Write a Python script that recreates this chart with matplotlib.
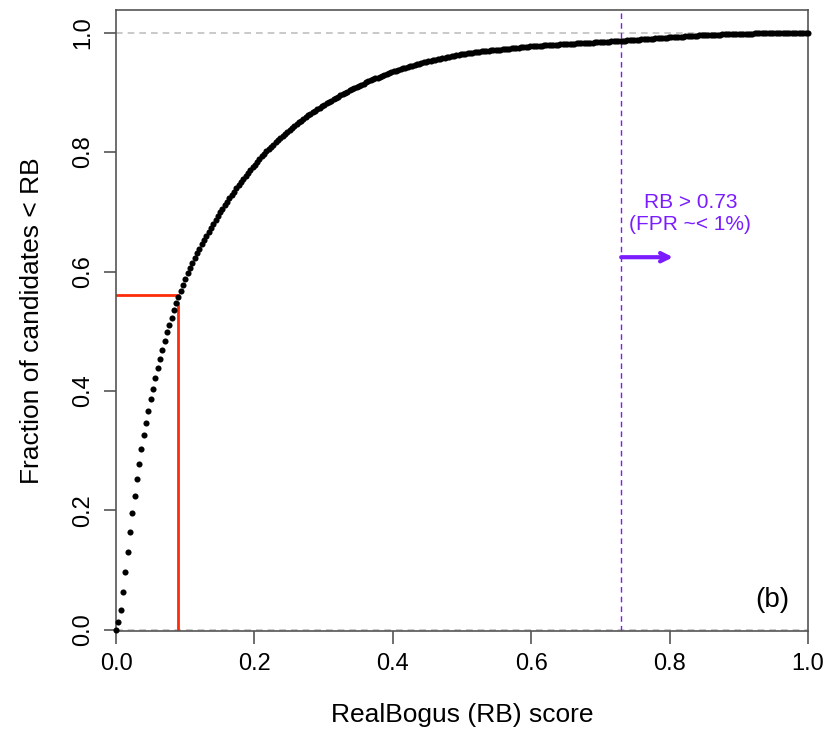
import numpy as np
import matplotlib
matplotlib.use("Agg")
import matplotlib.pyplot as plt

plt.rcParams['font.family'] = ['Liberation Sans', 'DejaVu Sans']

# CDF of RealBogus score sampled on an even grid (301 points from 0 to 1)
frac_below = [
    0.000, 0.013, 0.034, 0.064, 0.097, 0.131, 0.164, 0.195, 0.224, 0.252, 0.278, 0.303, 0.326, 0.347, 0.367, 0.386,
    0.404, 0.421, 0.438, 0.454, 0.469, 0.484, 0.498, 0.511, 0.523, 0.535, 0.547, 0.558, 0.5682, 0.5782, 0.588,
    0.5973, 0.6062, 0.6148, 0.623, 0.6309, 0.6385, 0.6459, 0.6531, 0.6601, 0.6669, 0.6735, 0.68, 0.6864, 0.6927, 0.6989,
    0.705, 0.711, 0.7169, 0.7227, 0.7284, 0.734, 0.7395, 0.7449, 0.7502, 0.7554, 0.7605, 0.7652, 0.7699, 0.7745, 0.779,
    0.7837, 0.7883, 0.7928, 0.7971, 0.8012, 0.8051, 0.8089, 0.8126, 0.8162, 0.8198, 0.8233, 0.8268, 0.8302, 0.8336, 0.8369,
    0.8402, 0.8434, 0.8466, 0.8497, 0.8528, 0.8558, 0.8587, 0.8615, 0.8643, 0.867, 0.8696, 0.8722, 0.8747, 0.8771, 0.8795,
    0.8818, 0.8841, 0.8864, 0.8886, 0.8908, 0.893, 0.8952, 0.8973, 0.8994, 0.9014, 0.9034, 0.9054, 0.9074, 0.9093, 0.9112,
    0.9131, 0.9149, 0.9167, 0.9184, 0.9201, 0.9217, 0.9233, 0.9249, 0.9265, 0.928, 0.9295, 0.931, 0.9324, 0.9338,
    0.9352, 0.9365, 0.9378, 0.9391, 0.9403, 0.9415, 0.9427, 0.9438, 0.9449, 0.946, 0.9471, 0.9481, 0.9491, 0.9501, 0.9511,
    0.9521, 0.953, 0.9539, 0.9548, 0.9557, 0.9566, 0.9575, 0.9583, 0.9591, 0.9599, 0.9607, 0.9615, 0.9623, 0.963, 0.9637,
    0.9643, 0.9649, 0.9655, 0.966, 0.9665, 0.967, 0.9675, 0.968, 0.9685, 0.969, 0.9694, 0.9698, 0.9702, 0.9706, 0.971,
    0.9714, 0.9718, 0.9722, 0.9726, 0.973, 0.9734, 0.9738, 0.9742, 0.9746, 0.975, 0.9754, 0.9758, 0.9762, 0.9766, 0.977,
    0.9773, 0.9775, 0.9778, 0.9781, 0.9783, 0.9786, 0.9789, 0.9791, 0.9794, 0.9797, 0.9799, 0.9802, 0.9805, 0.9807, 0.981,
    0.9812, 0.9814, 0.9816, 0.9818, 0.982, 0.9822, 0.9824, 0.9826, 0.9828, 0.983, 0.9832, 0.9834, 0.9836, 0.9838, 0.984,
    0.9843, 0.9845, 0.9848, 0.9851, 0.9853, 0.9856, 0.9859, 0.9861, 0.9864, 0.9867, 0.9869, 0.9872, 0.9875, 0.9877, 0.988,
    0.9883, 0.9885, 0.9888, 0.9891, 0.9893, 0.9896, 0.9899, 0.9901, 0.9904, 0.9907, 0.9909, 0.9912, 0.9915, 0.9917, 0.992,
    0.9923, 0.9925, 0.9928, 0.9931, 0.9933, 0.9936, 0.9939, 0.9941, 0.9944, 0.9947, 0.9949, 0.9952, 0.9955, 0.9957, 0.996,
    0.9961, 0.9963, 0.9964, 0.9965, 0.9967, 0.9968, 0.9969, 0.9971, 0.9972, 0.9973, 0.9975, 0.9976, 0.9977, 0.9979, 0.998,
    0.9981, 0.9982, 0.9983, 0.9984, 0.9985, 0.9986, 0.9987, 0.9988, 0.9989, 0.999, 0.9991, 0.9992, 0.9993, 0.9994, 0.9995,
    0.9995, 0.9996, 0.9996, 0.9997, 0.9997, 0.9998, 0.9998, 0.9998, 0.9999, 0.9999, 0.9999, 1.0, 1.0, 1.0, 1.0,
]
rb_score = np.linspace(0.0, 1.0, len(frac_below))

# annotation values
rb_cut_low = 0.09
frac_at_cut_low = 0.56
frac_vline_top = 0.548
rb_threshold = 0.73
threshold_text = "RB > 0.73\n(FPR ~< 1%)"
panel_label = "(b)"

x_ticks = [0.0, 0.2, 0.4, 0.6, 0.8, 1.0]
y_ticks = [0.0, 0.2, 0.4, 0.6, 0.8, 1.0]

fig = plt.figure(figsize=(8.30, 7.33), dpi=100)
ax = fig.add_axes([116/830, 1 - 631/733, (808-116)/830, (631-10)/733])

ax.axhline(0.0, color='#c0c0c0', lw=1.2, ls=(0, (4, 3)), zorder=1)
ax.axhline(1.0, color='#c0c0c0', lw=1.2, ls=(0, (4, 3)), zorder=1)

ax.plot(rb_score, frac_below, ls='none', marker='o', ms=4.4, color='black',
        markeredgewidth=0, zorder=3, clip_on=False)

red = '#ff2a0a'
ax.plot([rb_cut_low, rb_cut_low], [0.0, frac_vline_top], color=red, lw=2.0, zorder=2)
ax.plot([0.0, rb_cut_low], [frac_at_cut_low, frac_at_cut_low], color=red, lw=2.0, zorder=2)

purple = '#7b1cff'
ax.axvline(rb_threshold, color=purple, lw=1.0, ls=(0, (4, 3)), zorder=2)
ax.annotate('', xy=(0.805, 0.624), xytext=(rb_threshold, 0.624),
            arrowprops=dict(arrowstyle='->,head_length=0.6,head_width=0.3', color=purple, lw=3.0,
                            shrinkA=0, shrinkB=0), zorder=4)
ax.text(0.83, 0.697, threshold_text, color=purple, fontsize=15, ha='center', va='center',
        linespacing=1.15)
ax.text(0.948, 0.05, panel_label, color='black', fontsize=20, ha='center', va='center')

ax.set_xlim(0, 1)
ax.set_ylim(-0.002, 1.038)
ax.set_xticks(x_ticks)
ax.set_xticklabels([f"{v:.1f}" for v in x_ticks])
ax.set_yticks(y_ticks)
ax.set_yticklabels([f"{v:.1f}" for v in y_ticks], rotation=90, va='center')

for s in ax.spines.values():
    s.set_color('#555555')
    s.set_linewidth(1.2)
ax.tick_params(axis='both', direction='out', length=9, width=1.2, color='#555555',
               labelsize=17, pad=7)
ax.set_xlabel("RealBogus (RB) score", fontsize=19, labelpad=20)
ax.set_ylabel("Fraction of candidates < RB", fontsize=19, labelpad=20)

fig.savefig("out.png", dpi=100)
